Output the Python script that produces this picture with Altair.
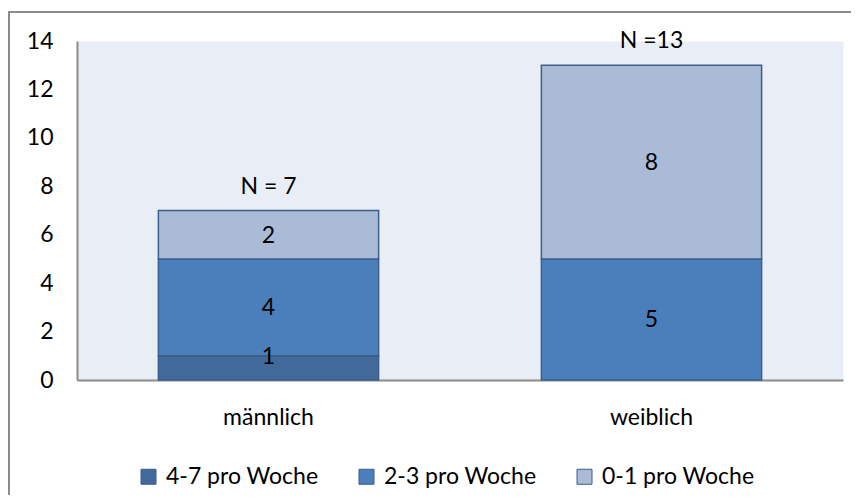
import altair as alt
import pandas as pd

categories = ["männlich", "weiblich"]
series = ["4-7 pro Woche", "2-3 pro Woche", "0-1 pro Woche"]
vals_47 = [1, 0]
vals_23 = [4, 5]
vals_01 = [2, 8]
n_labels = ["N = 7", "N =13"]
colors = ["#41699a", "#4b7fbc", "#aabbd8"]

rows = []
for i, cat in enumerate(categories):
    for k, (s, vals) in enumerate(zip(series, [vals_47, vals_23, vals_01])):
        if vals[i] > 0:
            rows.append({"cat": cat, "series": s, "value": vals[i], "ord": k})
df = pd.DataFrame(rows)

totals = pd.DataFrame({
    "cat": categories,
    "total": [a + b + c for a, b, c in zip(vals_47, vals_23, vals_01)],
    "label": n_labels,
})

FONT = "Lato"
FS = 23

xenc = alt.X("cat:N", sort=categories, title=None,
             scale=alt.Scale(paddingInner=0.425, paddingOuter=0.2125),
             axis=alt.Axis(labelAngle=0, ticks=False, labelPadding=44,
                           labelBaseline="alphabetic", labelFontSize=FS,
                           labelColor="#000000", labelFont=FONT,
                           domainColor="#8c8c8c", domainWidth=2))
yscale = alt.Scale(domain=[0, 14], nice=False)

base = alt.Chart(df).transform_stack(
    stack="value", groupby=["cat"], as_=["y0", "y1"],
    sort=[alt.SortField("ord", order="ascending")]
)

bars = base.mark_bar(stroke="#3b5e8c", strokeWidth=1.5).encode(
    x=xenc,
    y=alt.Y("y0:Q", scale=yscale, title=None,
            axis=alt.Axis(values=list(range(0, 15, 2)), ticks=False, grid=False,
                          labelPadding=24, labelFontSize=FS, labelColor="#000000",
                          labelFont=FONT, domainColor="#8c8c8c", domainWidth=2)),
    y2="y1:Q",
    color=alt.Color("series:N", title=None,
                    scale=alt.Scale(domain=series, range=colors),
                    legend=alt.Legend(orient="none", legendX=60, legendY=424,
                                      direction="horizontal", symbolType="square",
                                      symbolSize=225, symbolStrokeColor="#3b5e8c",
                                      symbolStrokeWidth=1, symbolOpacity=1,
                                      labelFontSize=FS, labelFont=FONT,
                                      labelColor="#000000", labelOffset=6,
                                      columnPadding=36)),
)

seg_labels = base.transform_calculate(
    ypos="datum.value < 2 ? datum.y1 : (datum.y0 + datum.y1) / 2"
).mark_text(fontSize=FS, font=FONT, color="#000000", baseline="middle", dy=1).encode(
    x=alt.X("cat:N", sort=categories),
    y=alt.Y("ypos:Q", scale=yscale),
    text="value:Q",
)

n_text = alt.Chart(totals).mark_text(fontSize=FS, font=FONT, color="#000000",
                                     baseline="middle", dy=-24).encode(
    x=alt.X("cat:N", sort=categories),
    y=alt.Y("total:Q", scale=yscale),
    text="label:N",
)

dummy = pd.DataFrame({"a": [0]})
frame_top = alt.Chart(dummy).mark_rule(color="#8c8c8c", strokeWidth=2).encode(
    x=alt.value(-69), x2=alt.value(780), y=alt.value(-29))
frame_left = alt.Chart(dummy).mark_rule(color="#8c8c8c", strokeWidth=2).encode(
    x=alt.value(-68), y=alt.value(-30), y2=alt.value(460))

chart = alt.layer(bars, seg_labels, n_text, frame_top, frame_left).properties(
    width=766, height=339,
    autosize=alt.AutoSizeParams(type="none"),
    padding={"left": 69, "top": 33, "right": 8, "bottom": 115},
).configure(font=FONT).configure_view(fill="#e9edf5", stroke="transparent")

chart.save("out.html", embed_options={"renderer": "svg", "actions": False})
